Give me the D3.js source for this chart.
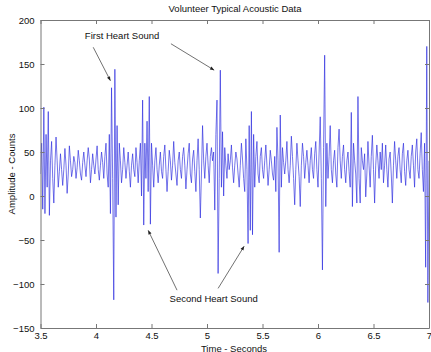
<!DOCTYPE html>
<html>
<head>
<meta charset="utf-8">
<script src="https://cdn.jsdelivr.net/npm/d3@7"></script>
<style>
    body { margin: 0; background: #fff; }
    svg { display: block; font-family: "Liberation Sans", Arial, sans-serif; }
</style>
</head>
<body>
<svg id="chart"></svg>
<script>
// Time axis: 3.50 s to 7.00 s, one sample every 0.01 s
let startTime = 3.5;
let sampleStep = 0.01;

// Amplitude (counts), 10 samples per row
let amplitude = [
    25, 60, -15, 101, -20, 70, 10, 96, -22, 40,
    62, 20, -8, 35, 67, 40, 10, 28, 48, 30,
    12, 30, 54, 35, 3, 25, 57, 40, 22, 30,
    45, 38, 20, 32, 52, 40, 25, 18, 38, 50,
    35, 22, 40, 55, 42, 15, 30, 48, 35, 25,
    42, 57, 30, 18, 35, 50, 38, 20, 45, 60,
    25, 10, 70, -20, 123, 20, -118, 144, -24, 80,
    -10, 60, 40, 15, 30, 55, 38, 20, 35, 50,
    28, 10, 35, 48, 30, 22, 55, 38, 15, 40,
    60, 0, 109, -33, 60, 20, 85, 5, 113, -32,
    60, 35, 10, 40, 55, 30, 15, 35, 50, 28,
    20, 45, 58, 30, 5, 28, 52, 40, 18, 35,
    62, 38, 25, 12, 40, 50, 30, 20, 45, 55,
    35, 8, 30, 48, 60, 25, 15, 42, 52, 28,
    5, 40, 65, 30, -25, 25, 80, 40, 20, 45,
    60, 35, 15, 45, 55, 40, 50, -16, 70, 109,
    -88, 20, 143, 10, 73, 0, 55, 35, 20, 48,
    30, 40, 58, 32, 15, 35, 50, 42, 25, 10,
    35, 60, 42, 20, 5, 65, 30, -54, 80, -39,
    96, -44, 70, 10, 45, 62, 25, 15, 45, 55,
    30, 20, 40, 58, 35, 12, 30, 52, 40, 25,
    18, 45, 5, 78, 40, -64, 92, 10, 55, 38,
    25, 40, 62, 30, 15, 35, 68, 45, 20, -10,
    30, 60, 40, 22, -12, 35, 60, 45, 20, 38,
    52, 35, 15, 40, 55, 30, 20, 48, 62, 30,
    10, 50, 90, 20, -84, 55, 160, -12, 60, 20,
    45, 80, 30, 15, 40, 52, 25, 10, 55, 76,
    40, 20, 45, 58, 30, 15, 40, 50, 28, 10,
    95, -12, 60, 40, 25, -8, 113, 20, -8, 55,
    40, 30, 48, -1, 25, 62, 35, 10, 45, 69,
    30, -8, 35, 58, 40, 20, 50, 30, 60, 15,
    35, 58, 30, 10, 42, 50, 25, -8, 35, 62,
    40, 20, 45, 55, 30, 15, 48, 60, 28, 12,
    40, 52, 30, 20, 45, 58, 35, 10, 50, 65,
    30, 20, 48, 72, 30, 5, 60, -81, 170, -121,
    40
];

let xTicks = [3.5, 4, 4.5, 5, 5.5, 6, 6.5, 7];
let yTicks = [-150, -100, -50, 0, 50, 100, 150, 200];

// Annotation labels and arrows, in data units
let labels = [
    { text: "First Heart Sound", t: 4.235, a: 178 },
    { text: "Second Heart Sound", t: 5.06, a: -121 }
];
let arrows = [
    { t1: 3.975, a1: 169, t2: 4.13, a2: 131 },
    { t1: 4.675, a1: 173, t2: 5.065, a2: 143 },
    { t1: 4.73, a1: -107, t2: 4.47, a2: -39 },
    { t1: 5.10, a1: -105, t2: 5.335, a2: -57 }
];

let width = 431;
let height = 352;
let margin = { top: 20, right: 2, bottom: 24, left: 40.5 };

let svg = d3.select("#chart")
    .attr("width", width)
    .attr("height", height);

let x = d3.scaleLinear()
    .domain([3.5, 7])
    .range([margin.left, width - margin.right]);
let y = d3.scaleLinear()
    .domain([-150, 200])
    .range([height - margin.bottom, margin.top]);

let samples = amplitude.map((v, i) => ({ t: startTime + i * sampleStep, v: v }));

svg.append("defs")
    .append("marker")
    .attr("id", "head")
    .attr("viewBox", "0 0 10 10")
    .attr("refX", 10)
    .attr("refY", 5)
    .attr("markerWidth", 7)
    .attr("markerHeight", 6)
    .attr("orient", "auto")
    .append("path")
    .attr("d", "M0,1 L10,5 L0,9 z")
    .attr("fill", "#222");

svg.append("clipPath")
    .attr("id", "plotClip")
    .append("rect")
    .attr("x", margin.left)
    .attr("y", margin.top)
    .attr("width", width - margin.right - margin.left)
    .attr("height", height - margin.bottom - margin.top);

// Signal trace
let line = d3.line()
    .x((d) => x(d.t))
    .y((d) => y(d.v));

svg.append("path")
    .datum(samples)
    .attr("clip-path", "url(#plotClip)")
    .attr("d", line)
    .attr("fill", "none")
    .attr("stroke", "#2a2ade")
    .attr("stroke-width", 0.65)
    .attr("stroke-linejoin", "round");

// Axes with inward ticks on all four sides (box on)
let axisColor = "#777";
let tickLen = 4;
let bottomAxis = svg.append("g")
    .attr("transform", `translate(0,${height - margin.bottom})`)
    .call(d3.axisBottom(x).tickValues(xTicks).tickSizeInner(-tickLen).tickSizeOuter(0).tickPadding(4).tickFormat(d3.format("")));
let topAxis = svg.append("g")
    .attr("transform", `translate(0,${margin.top})`)
    .call(d3.axisTop(x).tickValues(xTicks).tickSizeInner(-tickLen).tickSizeOuter(0).tickFormat(""));
let leftAxis = svg.append("g")
    .attr("transform", `translate(${margin.left},0)`)
    .call(d3.axisLeft(y).tickValues(yTicks).tickSizeInner(-tickLen).tickSizeOuter(0).tickPadding(6));
let rightAxis = svg.append("g")
    .attr("transform", `translate(${width - margin.right},0)`)
    .call(d3.axisRight(y).tickValues(yTicks).tickSizeInner(-tickLen).tickSizeOuter(0).tickFormat(""));

[bottomAxis, topAxis, leftAxis, rightAxis].forEach((g) => {
    g.selectAll("path, line").attr("stroke", axisColor);
    g.selectAll("text").attr("fill", "#111").style("font-size", "9.5px").style("font-family", null);
});

// Titles
svg.append("text")
    .attr("x", 235)
    .attr("y", 12)
    .attr("text-anchor", "middle")
    .attr("fill", "#111")
    .style("font-size", "9.5px")
    .text("Volunteer Typical Acoustic Data");

svg.append("text")
    .attr("x", 234)
    .attr("y", 351.5)
    .attr("text-anchor", "middle")
    .attr("fill", "#111")
    .style("font-size", "9.5px")
    .text("Time - Seconds");

svg.append("text")
    .attr("transform", `translate(15,${(margin.top + height - margin.bottom) / 2}) rotate(-90)`)
    .attr("text-anchor", "middle")
    .attr("fill", "#111")
    .style("font-size", "9.5px")
    .text("Amplitude - Counts");

// Annotations
svg.append("g")
    .selectAll("line")
    .data(arrows)
    .enter()
    .append("line")
    .attr("x1", (d) => x(d.t1))
    .attr("y1", (d) => y(d.a1))
    .attr("x2", (d) => x(d.t2))
    .attr("y2", (d) => y(d.a2))
    .attr("stroke", "#333")
    .attr("stroke-width", 0.7)
    .attr("marker-end", "url(#head)");

svg.append("g")
    .selectAll("text")
    .data(labels)
    .enter()
    .append("text")
    .attr("x", (d) => x(d.t))
    .attr("y", (d) => y(d.a))
    .attr("text-anchor", "middle")
    .attr("fill", "#111")
    .style("font-size", "9.5px")
    .text((d) => d.text);
</script>
</body>
</html>
